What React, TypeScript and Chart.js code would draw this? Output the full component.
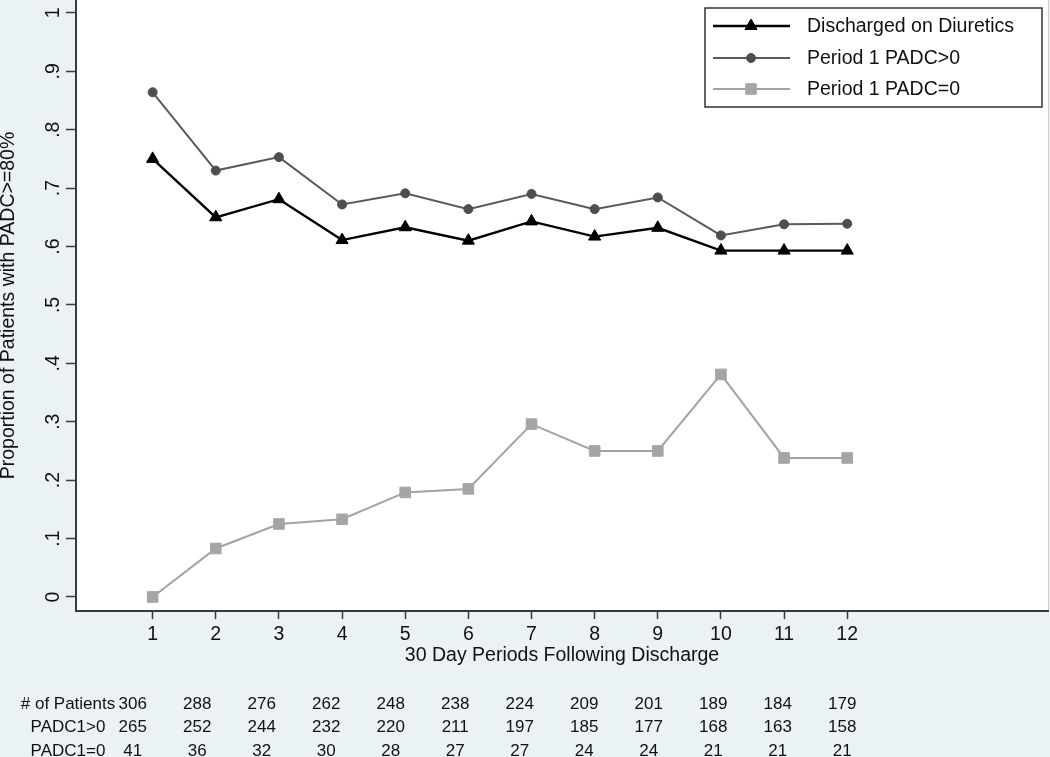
import React, { useEffect, useRef } from 'react';
import { Chart, registerables } from 'chart.js';
import { drawPoint } from 'chart.js/helpers';

Chart.register(...registerables);

const PERIODS = [1, 2, 3, 4, 5, 6, 7, 8, 9, 10, 11, 12];
const DISCHARGED = [0.750, 0.650, 0.681, 0.611, 0.633, 0.610, 0.643, 0.617, 0.632, 0.593, 0.593, 0.593];
const PADC_POS = [0.864, 0.730, 0.753, 0.672, 0.691, 0.664, 0.690, 0.664, 0.684, 0.619, 0.638, 0.639];
const PADC_ZERO = [0.000, 0.083, 0.125, 0.133, 0.179, 0.185, 0.296, 0.250, 0.250, 0.381, 0.238, 0.238];

const SERIES_LABELS = ['Discharged on Diuretics', 'Period 1 PADC>0', 'Period 1 PADC=0'];
const Y_TICKS = [0, 0.1, 0.2, 0.3, 0.4, 0.5, 0.6, 0.7, 0.8, 0.9, 1];
const X_TICKS = [1, 2, 3, 4, 5, 6, 7, 8, 9, 10, 11, 12];

const TABLE_ROWS = ['# of Patients', 'PADC1>0', 'PADC1=0'];
const N_PATIENTS = [306, 288, 276, 262, 248, 238, 224, 209, 201, 189, 184, 179];
const N_PADC_POS = [265, 252, 244, 232, 220, 211, 197, 185, 177, 168, 163, 158];
const N_PADC_ZERO = [41, 36, 32, 30, 28, 27, 27, 24, 24, 21, 21, 21];

const X_TITLE = '30 Day Periods Following Discharge';
const Y_TITLE = 'Proportion of Patients with PADC>=80%';

const FONT = '"Liberation Sans", Arial, sans-serif';
const BG = '#eaf2f3';
const TEXT = '#111111';
const AXIS = '#3a3a3a';

const W = 1050;
const H = 757;

const backgroundPlugin = {
  id: 'bgPlugin',
  beforeDraw(chart: any) {
    const { ctx, chartArea } = chart;
    ctx.save();
    ctx.fillStyle = BG;
    ctx.fillRect(0, 0, chart.width, chart.height);
    ctx.fillStyle = '#ffffff';
    ctx.fillRect(chartArea.left, chartArea.top, chartArea.right - chartArea.left, chartArea.bottom - chartArea.top);
    ctx.strokeStyle = '#c8cccd';
    ctx.lineWidth = 1;
    ctx.beginPath();
    ctx.moveTo(chartArea.right + 0.5, chartArea.top);
    ctx.lineTo(chartArea.right + 0.5, chartArea.bottom);
    ctx.stroke();
    ctx.restore();
  },
};

const legendPlugin = {
  id: 'boxLegend',
  afterDraw(chart: any) {
    const { ctx } = chart;
    const bx = 705, by = 8, bw = 337, bh = 99;
    ctx.save();
    ctx.fillStyle = '#ffffff';
    ctx.fillRect(bx, by, bw, bh);
    ctx.strokeStyle = '#333333';
    ctx.lineWidth = 1.5;
    ctx.strokeRect(bx, by, bw, bh);
    const rowsY = [26, 58, 89];
    chart.data.datasets.forEach((ds: any, i: number) => {
      const y = rowsY[i];
      ctx.strokeStyle = ds.borderColor;
      ctx.lineWidth = ds.borderWidth;
      ctx.beginPath();
      ctx.moveTo(713, y);
      ctx.lineTo(790, y);
      ctx.stroke();
      ctx.fillStyle = ds.pointBackgroundColor;
      ctx.strokeStyle = ds.pointBorderColor;
      ctx.lineWidth = 1;
      drawPoint(ctx, { pointStyle: ds.pointStyle, radius: ds.pointRadius, rotation: 0, borderWidth: 1 } as any, 751, y);
      ctx.fillStyle = TEXT;
      ctx.font = `19.5px ${FONT}`;
      ctx.textAlign = 'left';
      ctx.textBaseline = 'middle';
      ctx.fillText(ds.label, 807, y + 1);
    });
    ctx.restore();
  },
};

const tablePlugin = {
  id: 'riskTable',
  afterDraw(chart: any) {
    const { ctx } = chart;
    const xs = chart.scales.x;
    const rows = [N_PATIENTS, N_PADC_POS, N_PADC_ZERO];
    const rowsY = [704, 727, 751];
    ctx.save();
    ctx.fillStyle = TEXT;
    ctx.font = `17px ${FONT}`;
    ctx.textBaseline = 'middle';
    ctx.textAlign = 'center';
    TABLE_ROWS.forEach((label, r) => {
      ctx.fillText(label, 68, rowsY[r]);
      rows[r].forEach((v, i) => {
        const px = xs.getPixelForValue(PERIODS[i]) - 20 + (15 * i) / 11;
        ctx.fillText(String(v), px, rowsY[r]);
      });
    });
    ctx.restore();
  },
};

export default function App() {
  const ref = useRef<HTMLCanvasElement | null>(null);

  useEffect(() => {
    document.body.style.margin = '0';
    const canvas = ref.current;
    if (!canvas) return;
    const mk = (arr: number[]) => PERIODS.map((x, i) => ({ x, y: arr[i] }));
    const chart = new Chart(canvas, {
      type: 'line',
      data: {
        datasets: [
          {
            label: SERIES_LABELS[0],
            data: mk(DISCHARGED),
            borderColor: '#000000',
            borderWidth: 2.4,
            pointStyle: 'triangle',
            pointRadius: 7,
            pointBackgroundColor: '#000000',
            pointBorderColor: '#000000',
            pointBorderWidth: 1,
          },
          {
            label: SERIES_LABELS[1],
            data: mk(PADC_POS),
            borderColor: '#5a5a5a',
            borderWidth: 2,
            pointStyle: 'circle',
            pointRadius: 4.5,
            pointBackgroundColor: '#4e4e4e',
            pointBorderColor: '#4e4e4e',
            pointBorderWidth: 1,
          },
          {
            label: SERIES_LABELS[2],
            data: mk(PADC_ZERO),
            borderColor: '#a3a3a3',
            borderWidth: 2,
            pointStyle: 'rect',
            pointRadius: 7.5,
            pointBackgroundColor: '#a5a5a5',
            pointBorderColor: '#a5a5a5',
            pointBorderWidth: 1,
          },
        ] as any,
      },
      options: {
        responsive: false,
        animation: false,
        layout: { autoPadding: false, padding: { left: 0, right: 2, top: 0, bottom: 0 } },
        plugins: {
          legend: { display: false },
          tooltip: { enabled: false },
        },
        elements: { line: { tension: 0 } },
        scales: {
          x: {
            type: 'linear',
            min: -0.214,
            max: 15.18,
            afterBuildTicks: (s: any) => {
              s.ticks = X_TICKS.map((v) => ({ value: v }));
            },
            afterFit: (s: any) => {
              s.height = 146;
              s.paddingLeft = 0;
              s.paddingRight = 0;
            },
            border: { display: true, color: AXIS, width: 2 },
            grid: {
              display: true,
              drawOnChartArea: false,
              drawTicks: true,
              tickLength: 8,
              tickColor: AXIS,
              tickWidth: 1.5,
            },
            ticks: {
              autoSkip: false,
              maxRotation: 0,
              minRotation: 0,
              padding: 4,
              color: TEXT,
              font: { family: FONT, size: 19.5 },
              callback: (v: any) => String(v),
            },
            title: {
              display: true,
              text: X_TITLE,
              color: TEXT,
              font: { family: FONT, size: 19.5, lineHeight: 1.2 },
              padding: { top: 0, bottom: 90 },
            },
          },
          y: {
            type: 'linear',
            min: -0.024,
            max: 1.022,
            afterBuildTicks: (s: any) => {
              s.ticks = Y_TICKS.map((v) => ({ value: v }));
            },
            afterFit: (s: any) => {
              s.width = 76;
              s.paddingTop = 0;
              s.paddingBottom = 0;
            },
            border: { display: true, color: AXIS, width: 2 },
            grid: {
              display: true,
              drawOnChartArea: false,
              drawTicks: true,
              tickLength: 10,
              tickColor: AXIS,
              tickWidth: 1.5,
            },
            ticks: {
              autoSkip: false,
              minRotation: 90,
              maxRotation: 90,
              crossAlign: 'center',
              padding: 4,
              color: TEXT,
              font: { family: FONT, size: 19.5 },
              callback: (v: any) => {
                const n = Number(v);
                if (n === 0) return '0';
                if (n === 1) return '1';
                return '.' + Math.round(n * 10);
              },
            },
            title: {
              display: true,
              text: Y_TITLE,
              color: TEXT,
              font: { family: FONT, size: 19.5, lineHeight: 0.84 },
              padding: { top: 0, bottom: 0 },
            },
          },
        },
      } as any,
      plugins: [backgroundPlugin, legendPlugin, tablePlugin],
    });
    return () => chart.destroy();
  }, []);

  return (
    <div style={{ position: 'fixed', left: 0, top: 0, width: W, height: H, background: BG }}>
      <canvas ref={ref} width={W} height={H} style={{ width: W, height: H, display: 'block' }} />
    </div>
  );
}
